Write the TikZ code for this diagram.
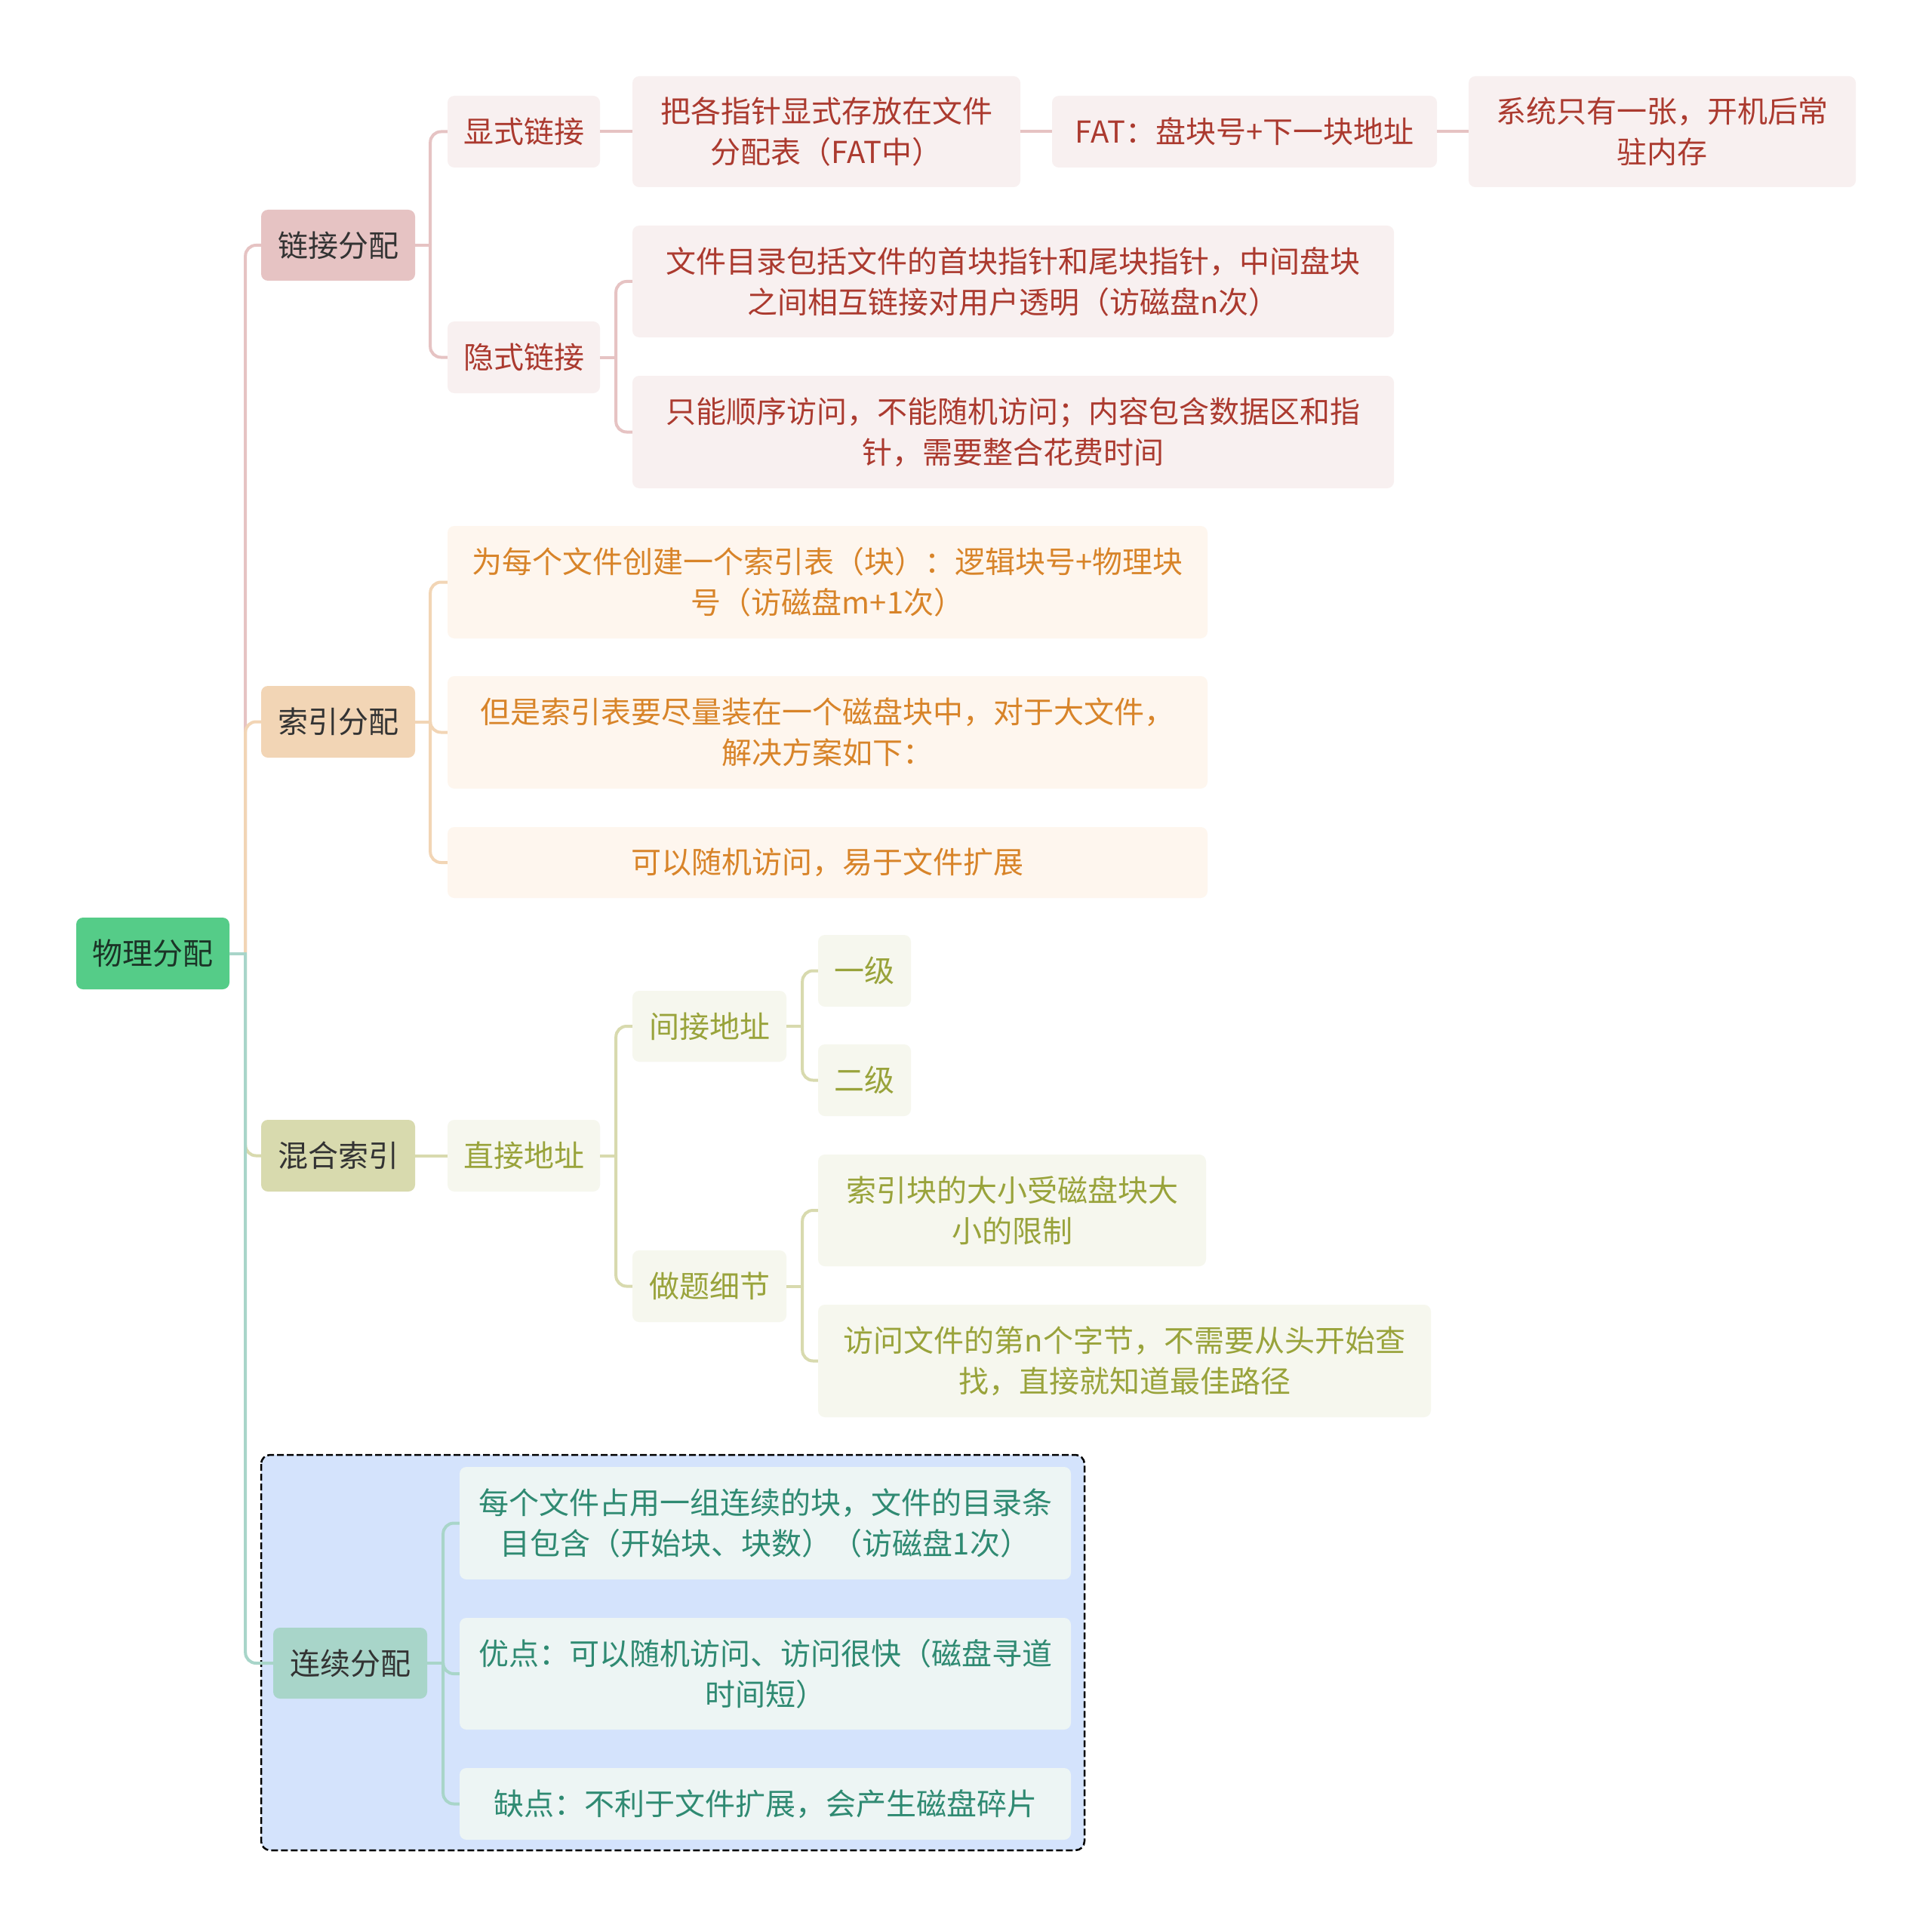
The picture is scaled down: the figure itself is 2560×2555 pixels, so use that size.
\documentclass[tikz,border=0pt]{standalone}
\usepackage{fontspec}
\setmainfont{Noto Sans CJK SC}
\definecolor{rootF}{HTML}{55CC88}
\definecolor{rootT}{HTML}{1B3326}
\definecolor{lT}{HTML}{333333}
\definecolor{redF}{HTML}{E6C3C3}
\definecolor{redLeaf}{HTML}{F8F0F0}
\definecolor{redT}{HTML}{AB3A2F}
\definecolor{oraF}{HTML}{F2D5B5}
\definecolor{oraLeaf}{HTML}{FEF6EE}
\definecolor{oraT}{HTML}{D88429}
\definecolor{oliF}{HTML}{D8DAAE}
\definecolor{oliLeaf}{HTML}{F6F7EE}
\definecolor{oliT}{HTML}{99A33B}
\definecolor{teaF}{HTML}{A8D5C9}
\definecolor{teaLeaf}{HTML}{EDF5F4}
\definecolor{teaT}{HTML}{2F8A72}
\definecolor{blueBg}{HTML}{D4E3FC}
\begin{document}
\begin{tikzpicture}[x=1pt,y=-1pt,
  box/.style={rounded corners=9pt, inner sep=0pt, align=center, font=\fontsize{40}{54}\selectfont},
  rootbox/.style={box, fill=rootF, text=rootT},
  redone/.style={box, fill=redF, text=lT},
  oraone/.style={box, fill=oraF, text=lT},
  olione/.style={box, fill=oliF, text=lT},
  teaone/.style={box, fill=teaF, text=lT},
  redleaf/.style={box, fill=redLeaf, text=redT},
  oraleaf/.style={box, fill=oraLeaf, text=oraT},
  olileaf/.style={box, fill=oliLeaf, text=oliT},
  tealeaf/.style={box, fill=teaLeaf, text=teaT},
  conn/.style={line width=4pt, rounded corners=14pt},
  sz/.style 2 args={minimum width=#1pt, minimum height=#2pt}
]
\useasboundingbox (0,0) rectangle (2560,2555);
\fill[white] (0,0) rectangle (2560,2555);

% dashed frame
\draw[fill=blueBg, line width=2.5pt, dash pattern=on 9pt off 4pt, rounded corners=12pt] (346,1928) rectangle (1437,2452);

% nodes
\node[rootbox, sz={203}{95}] (root) at (202.5,1263.5) {物理分配};

\node[redone, sz={204}{94}] (link) at (448,325) {链接分配};
\node[oraone, sz={204}{95}] (idx) at (448,956.5) {索引分配};
\node[olione, sz={204}{95}] (mix) at (448,1531.5) {混合索引};
\node[teaone, sz={204}{94}] (cont) at (464,2204) {连续分配};

\node[redleaf, sz={202}{95}] (exp) at (694,174.5) {显式链接};
\node[redleaf, sz={202}{95}] (imp) at (694,473.5) {隐式链接};
\node[redleaf, sz={514}{147}] (exp1) at (1095,174.5) {把各指针显式存放在文件\\分配表（FAT中）};
\node[redleaf, sz={510}{95}] (exp2) at (1649,174.5) {FAT：盘块号+下一块地址};
\node[redleaf, sz={513}{147}] (exp3) at (2202.5,174.5) {系统只有一张，开机后常\\驻内存};
\node[redleaf, sz={1009}{148}] (imp1) at (1342.5,373) {文件目录包括文件的首块指针和尾块指针，中间盘块\\之间相互链接对用户透明（访磁盘n次）};
\node[redleaf, sz={1009}{149}] (imp2) at (1342.5,572.5) {只能顺序访问，不能随机访问；内容包含数据区和指\\针，需要整合花费时间};

\node[oraleaf, sz={1007}{149}] (idx1) at (1096.5,771.5) {为每个文件创建一个索引表（块）：逻辑块号+物理块\\号（访磁盘m+1次）};
\node[oraleaf, sz={1007}{149}] (idx2) at (1096.5,970.5) {但是索引表要尽量装在一个磁盘块中，对于大文件，\\解决方案如下：};
\node[oraleaf, sz={1007}{94}] (idx3) at (1096.5,1143) {可以随机访问，易于文件扩展};

\node[olileaf, sz={202}{95}] (dir) at (694,1531.5) {直接地址};
\node[olileaf, sz={204}{94}] (ind) at (940,1360) {间接地址};
\node[olileaf, sz={123}{95}] (lv1) at (1145.5,1286.5) {一级};
\node[olileaf, sz={123}{95}] (lv2) at (1145.5,1431.5) {二级};
\node[olileaf, sz={204}{95}] (det) at (940,1704.5) {做题细节};
\node[olileaf, sz={514}{148}] (det1) at (1341,1604) {索引块的大小受磁盘块大\\小的限制};
\node[olileaf, sz={812}{149}] (det2) at (1490,1803.5) {访问文件的第n个字节，不需要从头开始查\\找，直接就知道最佳路径};

\node[tealeaf, sz={810}{149}] (con1) at (1014,2018.5) {每个文件占用一组连续的块，文件的目录条\\目包含（开始块、块数）（访磁盘1次）};
\node[tealeaf, sz={810}{148}] (con2) at (1014,2218) {优点：可以随机访问、访问很快（磁盘寻道\\时间短）};
\node[tealeaf, sz={810}{95}] (con3) at (1014,2390.5) {缺点：不利于文件扩展，会产生磁盘碎片};

% spine coordinates
\coordinate (rootS) at ([xshift=21pt]root.east);
\coordinate (linkS) at ([xshift=20pt]link.east);
\coordinate (impS) at ([xshift=21pt]imp.east);
\coordinate (idxS) at ([xshift=20pt]idx.east);
\coordinate (dirS) at ([xshift=21pt]dir.east);
\coordinate (indS) at ([xshift=21pt]ind.east);
\coordinate (detS) at ([xshift=21pt]det.east);
\coordinate (contS) at ([xshift=21pt]cont.east);

% root branches
\draw[conn, redF] (rootS) |- (link.west);
\draw[conn, oraF] (rootS) |- (idx.west);
\draw[conn, oliF] (rootS) |- (mix.west);
\draw[conn, teaF] (rootS) |- (cont.west);
\draw[line width=4pt, teaF] (root.east) -- ([xshift=2pt]rootS);

% link branch
\draw[line width=4pt, redF] (link.east) -- ([xshift=2pt]linkS);
\draw[conn, redF] (linkS) |- (exp.west);
\draw[conn, redF] (linkS) |- (imp.west);
\draw[line width=4pt, redF] (exp.east) -- (exp1.west);
\draw[line width=4pt, redF] (exp1.east) -- (exp2.west);
\draw[line width=4pt, redF] (exp2.east) -- (exp3.west);
\draw[line width=4pt, redF] (imp.east) -- ([xshift=2pt]impS);
\draw[conn, redF] (impS) |- (imp1.west);
\draw[conn, redF] (impS) |- (imp2.west);

% index branch
\draw[line width=4pt, oraF] (idx.east) -- ([xshift=2pt]idxS);
\draw[conn, oraF] (idxS) |- (idx1.west);
\draw[conn, oraF] (idxS) |- (idx2.west);
\draw[conn, oraF] (idxS) |- (idx3.west);

% mixed branch
\draw[line width=4pt, oliF] (mix.east) -- (dir.west);
\draw[line width=4pt, oliF] (dir.east) -- ([xshift=2pt]dirS);
\draw[conn, oliF] (dirS) |- (ind.west);
\draw[conn, oliF] (dirS) |- (det.west);
\draw[line width=4pt, oliF] (ind.east) -- ([xshift=2pt]indS);
\draw[conn, oliF] (indS) |- (lv1.west);
\draw[conn, oliF] (indS) |- (lv2.west);
\draw[line width=4pt, oliF] (det.east) -- ([xshift=2pt]detS);
\draw[conn, oliF] (detS) |- (det1.west);
\draw[conn, oliF] (detS) |- (det2.west);

% continuous branch
\draw[line width=4pt, teaF] (cont.east) -- ([xshift=2pt]contS);
\draw[conn, teaF] (contS) |- (con1.west);
\draw[conn, teaF] (contS) |- (con2.west);
\draw[conn, teaF] (contS) |- (con3.west);
\end{tikzpicture}
\end{document}
